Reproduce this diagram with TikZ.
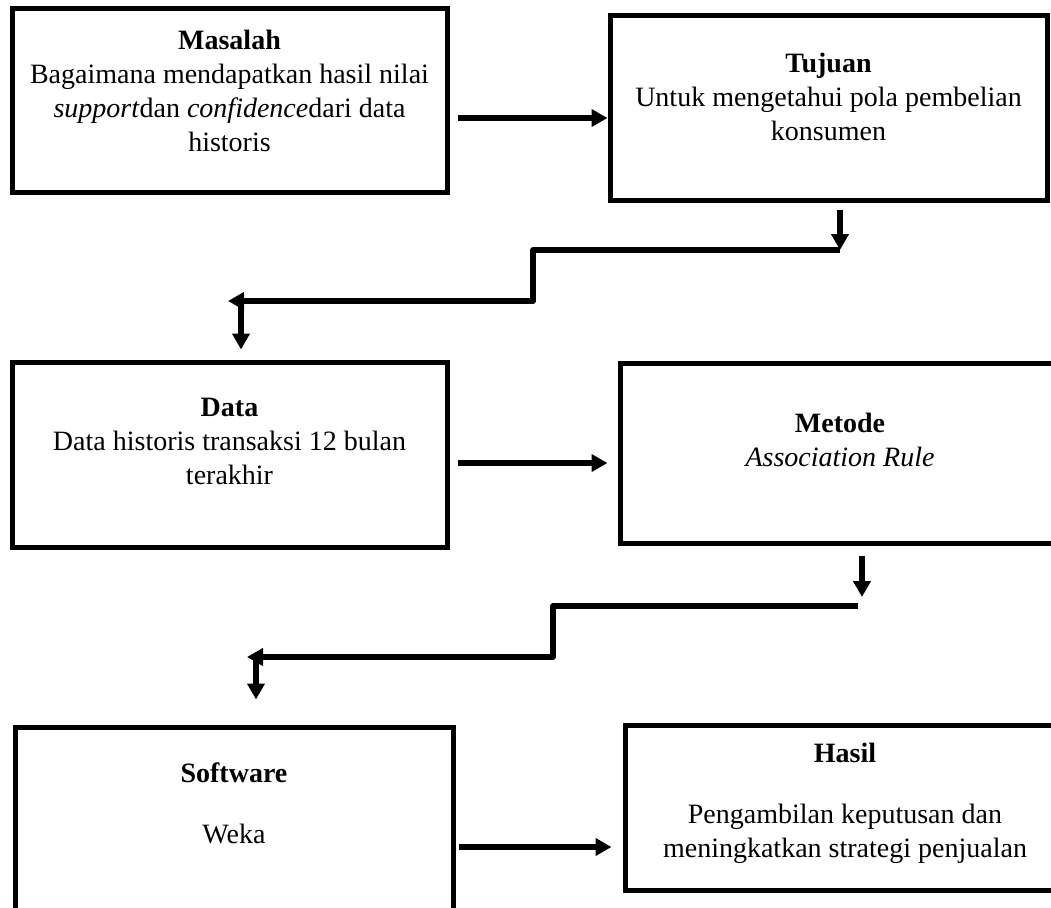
\documentclass[tikz,border=0pt]{standalone}
\usepackage{fontspec}
\setmainfont{Liberation Serif}
\usetikzlibrary{arrows.meta}

\begin{document}
\begin{tikzpicture}[
    x=0.5pt, y=-0.5pt,
    box/.style={rectangle, draw, line width=2.5pt, minimum width=217.5pt, minimum height=92pt, inner sep=0pt},
    txt/.style={anchor=north, align=center, inner sep=0pt, font=\fontsize{14}{17}\selectfont},
    arrow/.style={-{Triangle[length=8pt,width=8.5pt]}, line width=2.6pt, line join=round}
]
    \useasboundingbox (0,0) rectangle (1051,907);
    \clip (0,0) rectangle (1051,907);

    % boxes
    \node [box] (masalah) at (229.5,100) {};
    \node [box, minimum width=218.5pt, minimum height=92.5pt] (tujuan) at (828.5,107.5) {};
    \node [box, minimum height=92.5pt] (data) at (229.5,454.5) {};
    \node [box, minimum width=220pt, minimum height=90pt] (metode) at (840,453) {};
    \node [box, minimum width=219pt, minimum height=111.5pt] (software) at (234,838.5) {};
    \node [box, minimum width=220pt, minimum height=82.5pt] (hasil) at (845,807.5) {};

    % texts
    \node [txt] (masalahtxt) at ([yshift=-12pt]masalah.north) {\textbf{Masalah}\\Bagaimana mendapatkan hasil nilai\\\textit{support}dan \textit{confidence}dari data\\historis};
    \node [txt] (tujuantxt) at ([yshift=-20pt]tujuan.north) {\textbf{Tujuan}\\Untuk mengetahui pola pembelian\\konsumen};
    \node [txt] (datatxt) at ([yshift=-19pt]data.north) {\textbf{Data}\\Data historis transaksi 12 bulan\\terakhir};
    \node [txt] (metodetxt) at ([yshift=-26pt]metode.north) {\textbf{Metode}\\\textit{Association Rule}};
    \node [txt] (softwaretxt) at ([yshift=-19pt]software.north) {\textbf{Software}\\[13.5pt]Weka};
    \node [txt] (hasiltxt) at ([yshift=-10pt]hasil.north) {\textbf{Hasil}\\[13.5pt]Pengambilan keputusan dan\\meningkatkan strategi penjualan};

    % horizontal arrows
    \draw [arrow] ([xshift=4pt,yshift=-9pt]masalah.east) -- ([yshift=-9pt]masalah.east -| tujuan.west);
    \draw [arrow] ([xshift=4pt,yshift=-4.25pt]data.east) -- ([xshift=-5pt,yshift=-4.25pt]data.east -| metode.west);
    \draw [arrow] ([xshift=1.5pt,yshift=-4.25pt]software.east) -- ([xshift=-5.5pt,yshift=-4.25pt]software.east -| hasil.west);

    % stairs tujuan -> data
    \coordinate (t1) at ([xshift=5.75pt,yshift=-3.5pt]tujuan.south);
    \coordinate (t2) at (840,250);
    \coordinate (s1) at (533,301);
    \coordinate (d1) at (228,301);
    \coordinate (d2) at (241,303);
    \draw [arrow] (t1) -- (t2);
    \draw [arrow] (t2) -| (s1) -- (d1);
    \draw [arrow] (d2) -- ([yshift=5pt]data.north -| d2);

    % stairs metode -> software
    \coordinate (m1) at ([xshift=11pt,yshift=-5pt]metode.south);
    \coordinate (m2) at (862,597);
    \coordinate (m3) at (858,606);
    \coordinate (s2) at (553,657);
    \coordinate (w1) at (247,657);
    \coordinate (w2) at (256,659);
    \draw [arrow] (m1) -- (m2);
    \draw [arrow] (m3) -| (s2) -- (w1);
    \draw [arrow] (w2) -- ([yshift=12.5pt]software.north -| w2);
\end{tikzpicture}
\end{document}
